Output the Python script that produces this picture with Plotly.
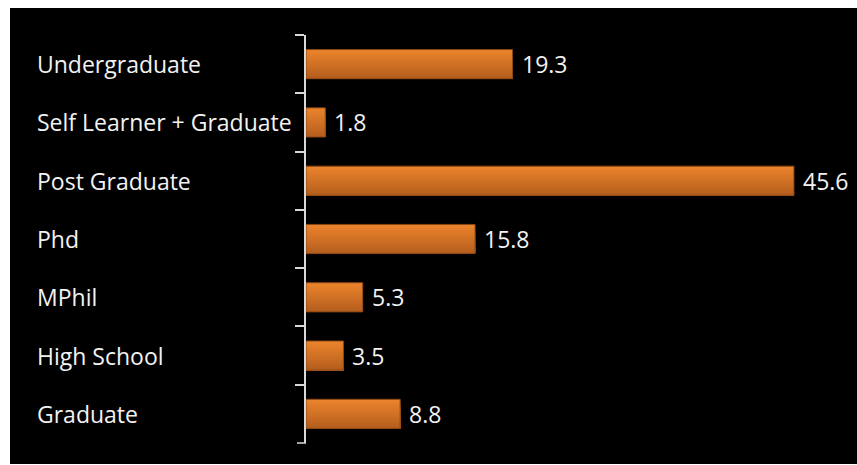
import plotly.graph_objects as go

# Education level breakdown (top to bottom)
categories = [
    "Undergraduate",
    "Self Learner + Graduate",
    "Post Graduate",
    "Phd",
    "MPhil",
    "High School",
    "Graduate",
]
values = [19.3, 1.8, 45.6, 15.8, 5.3, 3.5, 8.8]

W, H = 857, 465
L, R, T, B = 306, 16, 35, 22
plot_w = W - L - R
plot_h = H - T - B

top_rgb = (234, 132, 44)
bottom_rgb = (182, 94, 30)
text_color = "#F2F2F2"
axis_color = "#D9D9D9"
font_family = "Open Sans"
bar_width = 0.5
n_strips = 16
tick_len = 9

fig = go.Figure()

# vertical gradient fill: each layer runs from its start down to the bar's
# bottom edge, so later (darker) layers cover the lower part without seams
strip_w = bar_width / n_strips
for i in range(n_strips):
    t = i / (n_strips - 1)
    rgb = tuple(round(a + (b - a) * t) for a, b in zip(top_rgb, bottom_rgb))
    fig.add_trace(go.Bar(
        y=categories, x=values, orientation="h",
        width=bar_width - i * strip_w, offset=-bar_width / 2 + i * strip_w,
        marker=dict(color="rgb(%d,%d,%d)" % rgb, line=dict(width=0)),
        hoverinfo="skip",
    ))

# bar outlines
fig.add_trace(go.Bar(
    y=categories, x=values, orientation="h",
    width=bar_width, offset=-bar_width / 2,
    marker=dict(color="rgba(0,0,0,0)", line=dict(color="#8A4714", width=1)),
    hoverinfo="x+y",
))

# value labels to the right of each bar
for cat, val in zip(categories, values):
    fig.add_annotation(
        x=val, y=cat, xref="x", yref="y",
        text=f"{val}", showarrow=False,
        xanchor="left", xshift=7,
        font=dict(family=font_family, size=23, color=text_color),
    )

# category labels, left aligned
for cat in categories:
    fig.add_annotation(
        x=(35 - L) / plot_w, y=cat, xref="paper", yref="y",
        text=cat, showarrow=False, xanchor="left",
        font=dict(family=font_family, size=23, color=text_color),
    )

# black chart area
fig.add_shape(
    type="rect", xref="paper", yref="paper", layer="below",
    x0=(10 - L) / plot_w, x1=(W - L) / plot_w,
    y0=-(B - 1) / plot_h, y1=(H - 8 - B) / plot_h,
    fillcolor="black", line=dict(width=0),
)

# closing tick at the bottom end of the category axis
fig.add_shape(
    type="line", xref="paper", yref="paper",
    x0=-tick_len / plot_w, x1=0, y0=0, y1=0,
    line=dict(color=axis_color, width=1.5),
)

fig.update_layout(
    width=W, height=H,
    margin=dict(l=L, r=R, t=T, b=B),
    paper_bgcolor="white",
    plot_bgcolor="rgba(0,0,0,0)",
    showlegend=False,
    barmode="overlay",
    xaxis=dict(range=[0, 50], visible=False, fixedrange=True),
    yaxis=dict(
        type="category",
        categoryorder="array",
        categoryarray=categories,
        autorange="reversed",
        showticklabels=False,
        showline=True, linecolor=axis_color, linewidth=1.5,
        ticks="outside", tickson="boundaries", ticklen=tick_len,
        tickcolor=axis_color, tickwidth=1.5,
        showgrid=False, zeroline=False,
    ),
)

fig.write_html("out.html")
